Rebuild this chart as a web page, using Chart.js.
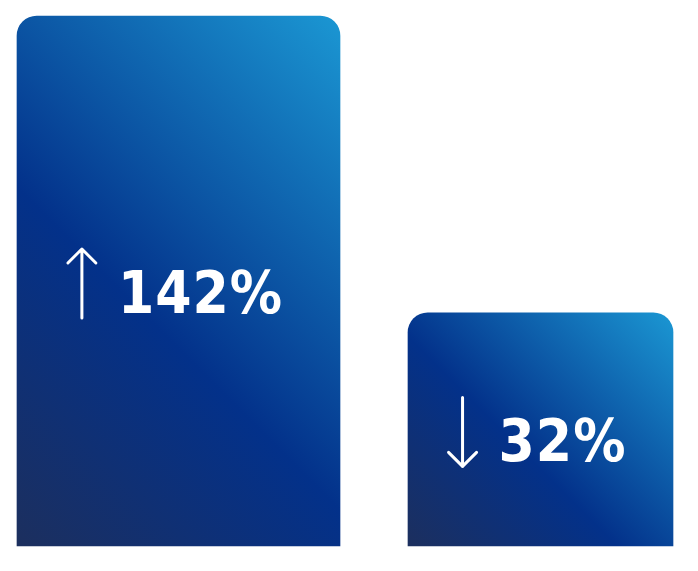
<!DOCTYPE html>
<html>
<head>
<meta charset="utf-8">
<script src="https://cdn.jsdelivr.net/npm/chart.js@4.4.1/dist/chart.umd.min.js"></script>
<style>
  html, body { margin: 0; padding: 0; background: #ffffff; }
  #wrap { width: 698px; height: 571px; position: relative; }
</style>
</head>
<body>
<div id="wrap"><canvas id="c"></canvas></div>
<script>
// ---- data ----
const categories = ['Increase', 'Decrease'];
const barValues = [100, 44];
const changeLabels = ['142%', '32%'];
const changeDirections = ['up', 'down'];

// ---- styles ----
const barWidths = [323, 265];
const gradStops = [[0, '#1c2f5e'], [0.42, '#03318a'], [1, '#1b97d3']];

function barGradient(ctx) {
  const chart = ctx.chart;
  const i = ctx.dataIndex;
  const xs = chart.scales.x, ys = chart.scales.y;
  if (!xs || !ys || !chart.chartArea) return gradStops[1][1];
  const v = ctx.raw;
  if (v === null || v === undefined) return gradStops[1][1];
  const cx = xs.getPixelForValue(i);
  const w = barWidths[ctx.datasetIndex];
  const top = ys.getPixelForValue(v);
  const bottom = ys.getPixelForValue(0);
  const h = bottom - top;
  const cy = (top + bottom) / 2;
  // CSS-like 45deg gradient (bottom-left to top-right)
  const ux = Math.SQRT1_2, uy = -Math.SQRT1_2;
  const L = (w * Math.abs(ux) + h * Math.abs(uy)) / 2;
  const g = chart.ctx.createLinearGradient(cx - ux * L, cy - uy * L, cx + ux * L, cy + uy * L);
  gradStops.forEach(s => g.addColorStop(s[0], s[1]));
  return g;
}

const labelPlugin = {
  id: 'changeLabels',
  afterDatasetsDraw(chart) {
    const c = chart.ctx;
    chart.data.datasets.forEach((ds, di) => {
      const meta = chart.getDatasetMeta(di);
      meta.data.forEach((bar, i) => {
        if (ds.data[i] === null) return;
        const p = bar.getProps(['x', 'y', 'base'], true);
        const midY = (p.y + p.base) / 2;
        const text = changeLabels[i];
        c.save();
        c.font = 'bold 58px "DejaVu Sans Condensed", "DejaVu Sans", sans-serif';
        if ('letterSpacing' in c) c.letterSpacing = '1px';
        const tw = c.measureText(text).width;
        const shaftX = p.x - 3 - (22 + tw) / 2;
        // arrow
        const y1 = midY - 32, y2 = midY + 37;
        c.strokeStyle = '#ffffff';
        c.lineWidth = 3;
        c.lineCap = 'round';
        c.lineJoin = 'round';
        c.beginPath();
        c.moveTo(shaftX, y1);
        c.lineTo(shaftX, y2);
        if (changeDirections[i] === 'up') {
          c.moveTo(shaftX - 14, y1 + 14);
          c.lineTo(shaftX, y1);
          c.lineTo(shaftX + 14, y1 + 14);
        } else {
          c.moveTo(shaftX - 14, y2 - 14);
          c.lineTo(shaftX, y2);
          c.lineTo(shaftX + 14, y2 - 14);
        }
        c.stroke();
        // text
        c.fillStyle = '#ffffff';
        c.textAlign = 'left';
        c.textBaseline = 'alphabetic';
        c.fillText(text, shaftX + 36, midY + 32);
        c.restore();
      });
    });
  }
};

const datasets = categories.map((cat, di) => ({
  label: cat,
  data: barValues.map((v, i) => (i === di ? v : null)),
  backgroundColor: barGradient,
  borderWidth: 0,
  borderRadius: 20,
  borderSkipped: 'start',
  barThickness: barWidths[di],
  grouped: false,
  clip: false
}));

new Chart(document.getElementById('c'), {
  type: 'bar',
  data: { labels: categories, datasets: datasets },
  options: {
    responsive: true,
    maintainAspectRatio: false,
    animation: false,
    devicePixelRatio: 1,
    layout: { padding: { left: 178.5, right: 157.5, top: 16, bottom: 25 } },
    plugins: { legend: { display: false }, tooltip: { enabled: false } },
    scales: {
      x: { display: false, offset: false, grid: { display: false } },
      y: { display: false, min: 0, max: 100, grid: { display: false } }
    }
  },
  plugins: [labelPlugin]
});
</script>
</body>
</html>
